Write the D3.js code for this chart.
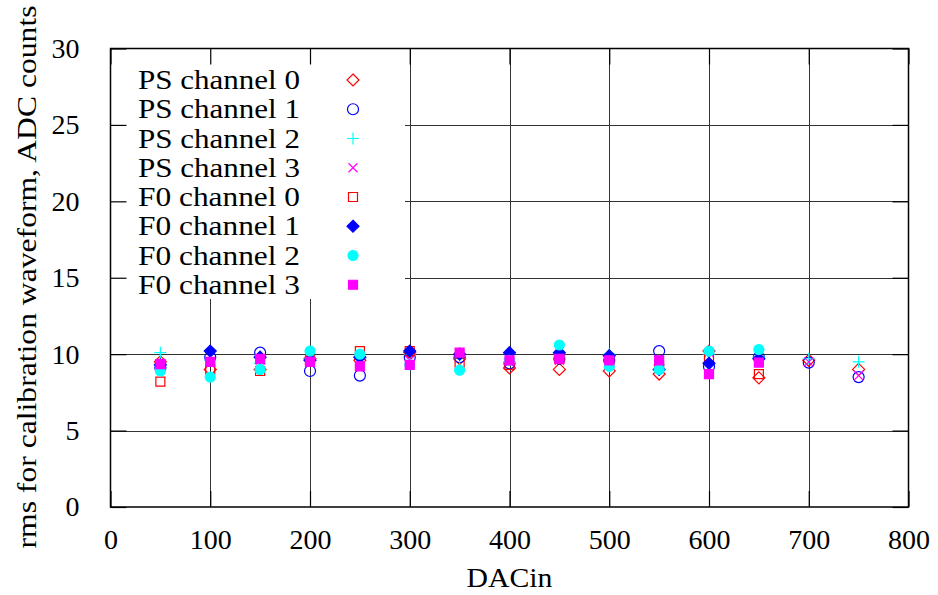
<!DOCTYPE html>
<html>
<head>
<meta charset="utf-8">
<script src="https://cdn.jsdelivr.net/npm/d3@7"></script>
<style>
  html, body { margin: 0; padding: 0; background: #fff; }
</style>
</head>
<body>
<svg id="chart" width="938" height="595"></svg>
<script>
// DAC input settings
const dacinPS = [50, 100, 150, 200, 250, 300, 350, 400, 450, 500, 550, 600, 650, 700, 750];
const dacinF0 = [50, 100, 150, 200, 250, 300, 350, 400, 450, 500, 550, 600, 650];

// rms of the calibration waveform (ADC counts)
const psCh0 = [9.5, 9.0, 9.0, 9.7, 9.6, 10.1, 9.7, 9.1, 9.0, 8.9, 8.7, 10.2, 8.45, 9.6, 9.0];
const psCh1 = [9.1, 9.8, 10.1, 8.9, 8.6, 9.8, 9.8, 9.4, 9.7, 9.6, 10.2, 9.2, 9.8, 9.45, 8.5];
const psCh2 = [10.1, 9.6, 9.4, 9.7, 9.8, 10.0, 9.7, 9.7, 9.8, 10.0, 9.3, 10.0, 9.8, 9.7, 9.5];
const psCh3 = [9.4, 9.5, 9.6, 9.6, 9.65, 9.6, 10.0, 9.5, 9.6, 9.5, 9.5, 10.1, 10.0, 9.5, 8.6];
const f0Ch0 = [8.2, 9.0, 8.9, 9.6, 10.2, 10.2, 9.45, 9.3, 9.7, 9.4, 9.2, 9.7, 8.7];
const f0Ch1 = [9.3, 10.2, 9.8, 9.6, 9.8, 10.2, 10.0, 10.1, 10.1, 9.9, 9.0, 9.4, 9.7];
const f0Ch2 = [8.9, 8.5, 9.0, 10.2, 10.0, 9.3, 8.95, 9.6, 10.6, 9.2, 9.0, 10.2, 10.3];
const f0Ch3 = [9.35, 9.5, 9.7, 9.5, 9.2, 9.3, 10.1, 9.6, 9.7, 9.6, 9.6, 8.7, 9.45];

const seriesNames = ["PS channel 0", "PS channel 1", "PS channel 2", "PS channel 3",
                     "F0 channel 0", "F0 channel 1", "F0 channel 2", "F0 channel 3"];
const seriesColors = ["#ff0000", "#0000ff", "#00ffff", "#ff00ff",
                      "#ff0000", "#0000ff", "#00ffff", "#ff00ff"];

const xTicks = [0, 100, 200, 300, 400, 500, 600, 700, 800];
const yTicks = [0, 5, 10, 15, 20, 25, 30];

const FONT = "'Liberation Serif', 'Times New Roman', serif";

// point-style shapes (size = half-width in px)
const shapes = {
  diamond: { draw(c, s) { c.moveTo(0, -s); c.lineTo(s, 0); c.lineTo(0, s); c.lineTo(-s, 0); c.closePath(); } },
  circle:  { draw(c, s) { c.moveTo(s, 0); c.arc(0, 0, s, 0, 2 * Math.PI); c.closePath(); } },
  plus:    { draw(c, s) { c.moveTo(-s, 0); c.lineTo(s, 0); c.moveTo(0, -s); c.lineTo(0, s); } },
  cross:   { draw(c, s) { c.moveTo(-s, -s); c.lineTo(s, s); c.moveTo(-s, s); c.lineTo(s, -s); } },
  square:  { draw(c, s) { c.moveTo(-s, -s); c.lineTo(s, -s); c.lineTo(s, s); c.lineTo(-s, s); c.closePath(); } }
};
const seriesStyle = [
  { type: shapes.diamond, size: 6,   fill: false },
  { type: shapes.circle,  size: 5.5, fill: false },
  { type: shapes.plus,    size: 6,   fill: false },
  { type: shapes.cross,   size: 4.5, fill: false },
  { type: shapes.square,  size: 4.5, fill: false },
  { type: shapes.diamond, size: 6,   fill: true },
  { type: shapes.circle,  size: 5,   fill: true },
  { type: shapes.square,  size: 4.5, fill: true }
];

const series = [
  { x: dacinPS, y: psCh0 }, { x: dacinPS, y: psCh1 }, { x: dacinPS, y: psCh2 }, { x: dacinPS, y: psCh3 },
  { x: dacinF0, y: f0Ch0 }, { x: dacinF0, y: f0Ch1 }, { x: dacinF0, y: f0Ch2 }, { x: dacinF0, y: f0Ch3 }
];

const svg = d3.select("#chart");
const plotL = 110.5, plotR = 908.5, plotT = 48.5, plotB = 507;
const x = d3.scaleLinear().domain([0, 800]).range([plotL, plotR]);
const y = d3.scaleLinear().domain([0, 30]).range([plotB, plotT]);

// grid
const grid = svg.append("g").attr("stroke", "#333").attr("stroke-width", 1);
grid.selectAll("line.vx").data(xTicks.slice(1, -1)).join("line")
  .attr("x1", d => Math.round(x(d)) + 0.5).attr("x2", d => Math.round(x(d)) + 0.5)
  .attr("y1", plotT).attr("y2", plotB);
grid.selectAll("line.hy").data(yTicks.slice(1, -1)).join("line")
  .attr("y1", d => Math.round(y(d)) + 0.5).attr("y2", d => Math.round(y(d)) + 0.5)
  .attr("x1", plotL).attr("x2", plotR);

// opaque key box
const keyRowH = 29.25, keyFirst = 80;
svg.append("rect").attr("x", plotL).attr("y", plotT)
  .attr("width", 405 - plotL).attr("height", 299 - plotT).attr("fill", "#fff");

// axes (ticks inward, mirrored)
const tickLen = 16;
function drawAxis(axis, transform) {
  const g = svg.append("g").attr("transform", transform).call(axis);
  g.select(".domain").remove();
  g.selectAll(".tick line").attr("stroke", "#000").attr("stroke-width", 1.2);
  g.selectAll(".tick text").attr("font-size", null).attr("font-family", null)
    .style("font-family", FONT).style("font-size", "28px").attr("fill", "#000");
  return g;
}
drawAxis(d3.axisBottom(x).tickValues(xTicks).tickSizeInner(-tickLen).tickPadding(22).tickFormat(d3.format("d")),
  `translate(0,${plotB})`);
drawAxis(d3.axisLeft(y).tickValues(yTicks).tickSizeInner(-tickLen).tickPadding(31).tickFormat(d3.format("d")),
  `translate(${plotL},0)`);
drawAxis(d3.axisTop(x).tickValues(xTicks).tickSizeInner(-tickLen).tickFormat(""), `translate(0,${plotT})`);
drawAxis(d3.axisRight(y).tickValues(yTicks).tickSizeInner(-tickLen).tickFormat(""), `translate(${plotR},0)`);

// frame
svg.append("rect").attr("x", plotL).attr("y", plotT).attr("width", plotR - plotL).attr("height", plotB - plotT)
  .attr("fill", "none").attr("stroke", "#000").attr("stroke-width", 1.5);

// key entries
const key = svg.append("g");
seriesNames.forEach((name, i) => {
  const cy = keyFirst + i * keyRowH;
  key.append("text").attr("x", 300).attr("y", cy + 9).attr("text-anchor", "end")
    .style("font-family", FONT).style("font-size", "28px")
    .attr("textLength", 162).attr("lengthAdjust", "spacingAndGlyphs").text(name);
  const st = seriesStyle[i];
  key.append("path").attr("transform", `translate(353,${cy})`)
    .attr("d", d3.symbol().type(st.type).size(st.size)())
    .attr("fill", st.fill ? seriesColors[i] : "none")
    .attr("stroke", seriesColors[i]).attr("stroke-width", 1.2);
});

// data points
series.forEach((s, i) => {
  const st = seriesStyle[i];
  svg.append("g").selectAll("path").data(s.y.map((v, k) => [s.x[k], v])).join("path")
    .attr("transform", d => `translate(${x(d[0])},${y(d[1])})`)
    .attr("d", d3.symbol().type(st.type).size(st.size)())
    .attr("fill", st.fill ? seriesColors[i] : "none")
    .attr("stroke", seriesColors[i]).attr("stroke-width", 1.2);
});

// axis titles
svg.append("text").attr("x", (plotL + plotR) / 2).attr("y", 587).attr("text-anchor", "middle")
  .style("font-family", FONT).style("font-size", "28px")
  .attr("textLength", 86).attr("lengthAdjust", "spacingAndGlyphs").text("DACin");
svg.append("text").attr("transform", "translate(36,277) rotate(-90)").attr("text-anchor", "middle")
  .style("font-family", FONT).style("font-size", "28px")
  .attr("textLength", 543).attr("lengthAdjust", "spacingAndGlyphs")
  .text("rms for calibration waveform, ADC counts");
</script>
</body>
</html>
